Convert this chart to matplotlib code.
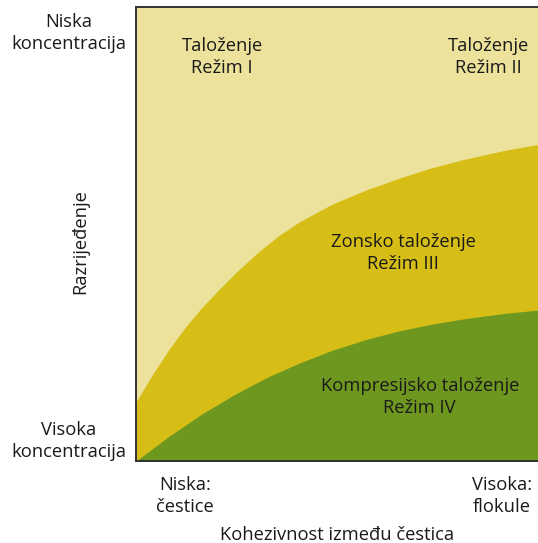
import matplotlib.pyplot as plt

plt.rcParams['font.family'] = ['Open Sans', 'DejaVu Sans']

# boundary between light and yellow zone (x = cohesion, y = dilution, 0..100)
upper_x = [0, 4, 8, 12, 16, 20, 25, 30, 35, 40, 48, 56, 64, 72, 80, 90, 100]
upper_y = [13.0, 19.0, 24.5, 29.4, 33.7, 37.5, 42.0, 46.1, 49.7, 52.7, 56.6,
           59.6, 62.2, 64.5, 66.4, 68.4, 70.0]

# boundary between yellow and green zone
lower_x = [0, 8, 16, 24, 32, 40, 48, 56, 64, 72, 80, 90, 100]
lower_y = [0, 5.4, 10.3, 14.6, 18.4, 21.6, 24.4, 26.7, 28.6, 30.1, 31.3, 32.5, 33.4]

regime_labels = ["Taloženje\nRežim I", "Taloženje\nRežim II",
                 "Zonsko taloženje\nRežim III", "Kompresijsko taloženje\nRežim IV"]
regime_x = [21.1, 86.1, 65.4, 69.4]
regime_y = [89.0, 89.0, 45.8, 14.1]

light = '#ece29b'
yellow = '#d6be16'
green = '#6e9720'
txt = '#1a1a1a'
fs = 13.2
ls = 1.28

fig = plt.figure(figsize=(5.38, 5.43), dpi=100)
ax = fig.add_axes([0.2528, 0.151, 0.76, 0.836])
ax.set_xlim(0, 100)
ax.set_ylim(0, 100)
ax.set_facecolor(light)

ax.fill_between(upper_x, 0, upper_y, color=yellow, lw=0)
ax.fill_between(lower_x, 0, lower_y, color=green, lw=0)

for lab, x, y in zip(regime_labels, regime_x, regime_y):
    ax.text(x, y, lab, ha='center', va='center', fontsize=fs,
            color=txt, linespacing=ls)

ax.set_xticks([])
ax.set_yticks([])
ax.spines['right'].set_visible(False)
for s in ['left', 'top', 'bottom']:
    ax.spines[s].set_linewidth(1.4)
    ax.spines[s].set_color('#333333')

fig.text(69 / 538, 1 - 33 / 543, "Niska\nkoncentracija", ha='center', va='center',
         fontsize=fs, color=txt, linespacing=ls)
fig.text(69 / 538, 1 - 441 / 543, "Visoka\nkoncentracija", ha='center', va='center',
         fontsize=fs, color=txt, linespacing=ls)
fig.text(80 / 538, 1 - 242 / 543, "Razrijeđenje", ha='center', va='center',
         rotation=90, fontsize=fs, color=txt)
fig.text(185 / 538, 1 - 496 / 543, "Niska:\nčestice", ha='center', va='center',
         fontsize=fs, color=txt, linespacing=ls)
fig.text(502 / 538, 1 - 496 / 543, "Visoka:\nflokule", ha='center', va='center',
         fontsize=fs, color=txt, linespacing=ls)
fig.text(337 / 538, 1 - 535 / 543, "Kohezivnost između čestica", ha='center',
         va='center', fontsize=fs, color=txt)

fig.savefig('out.png', dpi=100)
